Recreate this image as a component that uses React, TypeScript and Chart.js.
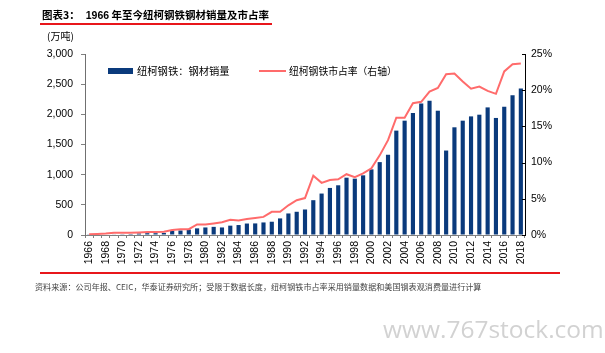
import React, { useEffect, useRef } from "react";
import { Chart, registerables } from "chart.js";

Chart.register(...registerables);

const years: string[] = [
  "1966","1967","1968","1969","1970","1971","1972","1973","1974","1975",
  "1976","1977","1978","1979","1980","1981","1982","1983","1984","1985",
  "1986","1987","1988","1989","1990","1991","1992","1993","1994","1995",
  "1996","1997","1998","1999","2000","2001","2002","2003","2004","2005",
  "2006","2007","2008","2009","2010","2011","2012","2013","2014","2015",
  "2016","2017","2018",
];

// 纽柯钢铁：钢材销量（万吨）
const salesVolume: number[] = [
  5, 6, 8, 10, 12, 15, 25, 30, 30, 35,
  70, 75, 90, 110, 125, 135, 125, 155, 165, 190,
  192, 208, 220, 275, 357, 385, 423, 577, 687, 780,
  824, 950, 934, 989, 1088, 1208, 1330, 1730, 1895, 2022,
  2180, 2225, 2060, 1400, 1785, 1895, 1966, 1994, 2115, 1940,
  2126, 2318, 2428,
];

// 纽柯钢铁市占率（%，右轴）
const marketShare: number[] = [
  0.1, 0.15, 0.2, 0.3, 0.3, 0.3, 0.35, 0.4, 0.4, 0.45,
  0.7, 0.8, 0.8, 1.45, 1.45, 1.6, 1.75, 2.1, 2.0, 2.2,
  2.35, 2.5, 3.2, 3.2, 4.1, 4.8, 5.1, 8.2, 7.2, 7.6,
  7.7, 8.4, 8.0, 8.5, 9.2, 11.0, 13.1, 16.2, 16.2, 18.2,
  18.4, 19.8, 20.3, 22.2, 22.3, 21.2, 20.2, 20.5, 19.9, 19.5,
  22.6, 23.6, 23.7,
];

const leftTicks = { min: 0, max: 3000, step: 500 };
const rightTicks = { min: 0, max: 25, step: 5 };

const BAR_COLOR = "#0a3a7c";
const LINE_COLOR = "#ff6b6b";
const CJK = '"Noto Sans CJK SC", "Noto Sans", sans-serif';
const LATIN = '"Liberation Sans", Arial, sans-serif';

export default function App() {
  const canvasRef = useRef<HTMLCanvasElement | null>(null);

  useEffect(() => {
    const canvas = canvasRef.current;
    if (!canvas) return;

    const rightInwardTicks = {
      id: "rightInwardTicks",
      afterDraw(chart: any) {
        const s = chart.scales.y1;
        const ctx = chart.ctx;
        ctx.save();
        ctx.strokeStyle = "#000";
        ctx.lineWidth = 1;
        for (let v = rightTicks.min; v <= rightTicks.max; v += rightTicks.step) {
          const y = Math.round(s.getPixelForValue(v)) + 0.5;
          ctx.beginPath();
          ctx.moveTo(s.left - 3, y);
          ctx.lineTo(s.left, y);
          ctx.stroke();
        }
        ctx.restore();
      },
    };

    const chart = new Chart(canvas, {
      type: "bar",
      data: {
        labels: years,
        datasets: [
          {
            type: "line",
            label: "纽柯钢铁市占率（右轴）",
            data: marketShare,
            yAxisID: "y1",
            borderColor: LINE_COLOR,
            backgroundColor: LINE_COLOR,
            borderWidth: 2,
            pointRadius: 0,
            tension: 0,
            order: 0,
          } as any,
          {
            type: "bar",
            label: "纽柯钢铁：钢材销量",
            data: salesVolume,
            yAxisID: "y",
            backgroundColor: BAR_COLOR,
            categoryPercentage: 1,
            barPercentage: 0.5,
            order: 1,
          },
        ],
      },
      options: {
        responsive: false,
        animation: false,
        layout: { padding: { top: 54, bottom: 80, left: 0, right: 0 } },
        plugins: {
          legend: { display: false },
          tooltip: { enabled: false },
        },
        scales: {
          x: {
            offset: true,
            grid: {
              display: true,
              drawOnChartArea: false,
              drawTicks: true,
              tickLength: 3,
              color: "#808080",
              offset: true,
            },
            border: { display: true, color: "#808080" },
            ticks: {
              autoSkip: false,
              minRotation: 90,
              maxRotation: 90,
              padding: 3,
              color: "#000",
              font: { family: LATIN, size: 10.5 },
              callback: (_v: any, i: number) => (i % 2 === 0 ? years[i] : ""),
            },
            afterFit: (s: any) => {
              s.height = 38;
            },
          },
          y: {
            position: "left",
            min: leftTicks.min,
            max: leftTicks.max,
            grid: {
              display: true,
              drawOnChartArea: false,
              drawTicks: true,
              tickLength: 4,
              color: "#808080",
            },
            border: { display: true, color: "#707070" },
            ticks: {
              stepSize: leftTicks.step,
              padding: 8,
              color: "#000",
              font: { family: LATIN, size: 10.5 },
              callback: (v: any) => Number(v).toLocaleString("en-US"),
            },
            afterFit: (s: any) => {
              s.width = 85;
            },
          },
          y1: {
            position: "right",
            min: rightTicks.min,
            max: rightTicks.max,
            grid: { display: false, drawOnChartArea: false, drawTicks: false },
            border: { display: true, color: "#000" },
            ticks: {
              stepSize: rightTicks.step,
              padding: 6,
              color: "#000",
              font: { family: LATIN, size: 10.5 },
              callback: (v: any) => v + "%",
            },
            afterFit: (s: any) => {
              s.width = 80;
            },
          },
        },
      },
      plugins: [rightInwardTicks],
    });

    return () => chart.destroy();
  }, []);

  const abs = (o: React.CSSProperties): React.CSSProperties => ({
    position: "absolute",
    whiteSpace: "nowrap",
    ...o,
  });

  return (
    <div
      style={{
        position: "absolute",
        left: 0,
        top: 0,
        width: 605,
        height: 353,
        background: "#fff",
        overflow: "hidden",
      }}
    >
      <canvas
        ref={canvasRef}
        width={605}
        height={353}
        style={{ position: "absolute", left: 0, top: 0, width: 605, height: 353 }}
      />
      {/* title */}
      <div
        style={abs({
          left: 42,
          top: 9,
          fontFamily: CJK,
          fontWeight: 700,
          fontSize: 10.5,
          lineHeight: "12px",
          color: "#000",
        })}
      >
        图表3：<span style={{ display: "inline-block", width: 6 }} />
        <span style={{ fontFamily: LATIN, fontWeight: 700 }}>1966</span> 年至今纽柯钢铁钢材销量及市占率
      </div>
      <div style={abs({ left: 40, top: 23, width: 232, height: 2, background: "#e8161b" })} />
      {/* unit */}
      <div
        style={abs({
          left: 47,
          top: 30,
          fontFamily: CJK,
          fontSize: 10,
          lineHeight: "12px",
          color: "#000",
        })}
      >
        (万吨)
      </div>
      {/* legend */}
      <div style={abs({ left: 108, top: 68, width: 25, height: 6, background: BAR_COLOR })} />
      <div
        style={abs({
          left: 137,
          top: 65,
          fontFamily: CJK,
          fontSize: 10.3,
          lineHeight: "12px",
          color: "#000",
        })}
      >
        纽柯钢铁：钢材销量
      </div>
      <div style={abs({ left: 259, top: 70, width: 27, height: 2, background: LINE_COLOR })} />
      <div
        style={abs({
          left: 289,
          top: 65,
          fontFamily: CJK,
          fontSize: 9.8,
          lineHeight: "12px",
          color: "#000",
        })}
      >
        纽柯钢铁市占率（右轴）
      </div>
      {/* bottom rule */}
      <div style={abs({ left: 40, top: 272, width: 520, height: 2, background: "#e8161b" })} />
      {/* source */}
      <div
        style={abs({
          left: 35,
          top: 282,
          fontFamily: CJK,
          fontSize: 8.1,
          lineHeight: "10px",
          color: "#444",
        })}
      >
        资料来源：公司年报、CEIC，华泰证券研究所；受限于数据长度，纽柯钢铁市占率采用销量数据和美国钢表观消费量进行计算
      </div>
      {/* watermark */}
      <div
        style={abs({
          left: 383,
          top: 314,
          fontFamily: '"Open Sans", sans-serif',
          fontSize: 24.5,
          lineHeight: "30px",
          color: "#d2d2d2",
        })}
      >
        www.767stock.com
      </div>
    </div>
  );
}
